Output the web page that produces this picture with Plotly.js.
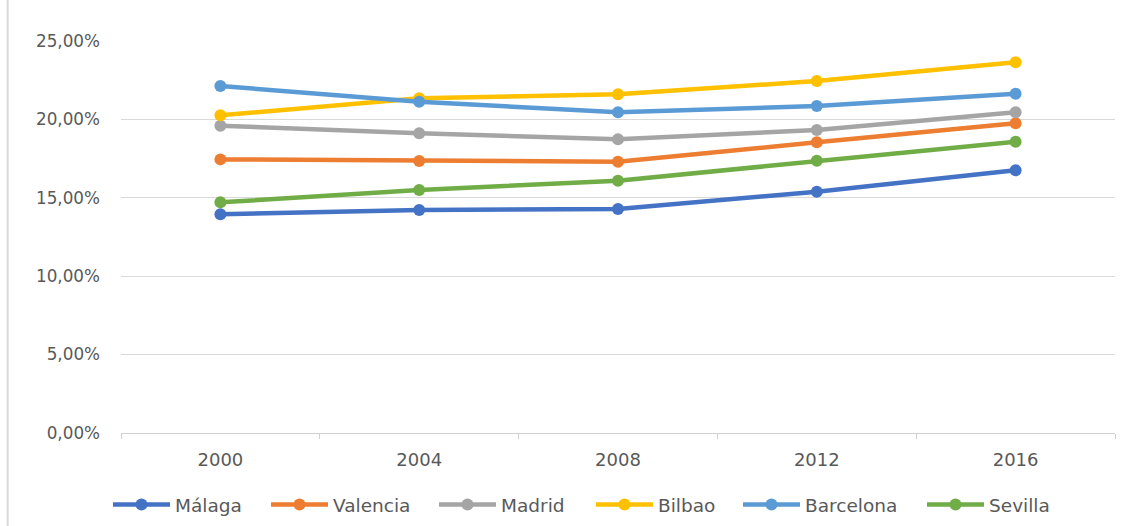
<!DOCTYPE html>
<html>
<head>
<meta charset="utf-8">
<script src="https://cdn.plot.ly/plotly-3.0.1.min.js"></script>
<style>html,body{margin:0;padding:0;background:#fff;}#chart{width:1131px;height:526px;}</style>
</head>
<body>
<div id="chart"></div>
<script>
const years = ['2000', '2004', '2008', '2012', '2016'];
const malaga    = [0.1395, 0.1422, 0.1429, 0.1539, 0.1675];
const valencia  = [0.1745, 0.1735, 0.1730, 0.1854, 0.1975];
const madrid    = [0.1960, 0.1911, 0.1873, 0.1932, 0.2045];
const bilbao    = [0.2026, 0.2135, 0.2160, 0.2245, 0.2364];
const barcelona = [0.2213, 0.2113, 0.2045, 0.2085, 0.2164];
const sevilla   = [0.1471, 0.1550, 0.1609, 0.1737, 0.1858];

const seriesNames = ['Málaga', 'Valencia', 'Madrid', 'Bilbao', 'Barcelona', 'Sevilla'];
const seriesData = [malaga, valencia, madrid, bilbao, barcelona, sevilla];
const colors = ['#4472C4', '#ED7D31', '#A5A5A5', '#FFC000', '#5B9BD5', '#70AD47'];

// legend entry left edges (px) in the picture
const legendStarts = [113, 271, 439, 596, 743, 927];

const PLOT_L = 121, PLOT_W = 994;
const FONT = 'DejaVu Sans, sans-serif';

const legendIds = seriesNames.map((_, i) => i === 0 ? 'legend' : 'legend' + (i + 1));

const traces = seriesNames.map((n, i) => ({
  type: 'scatter',
  mode: 'lines+markers',
  name: n,
  x: years,
  y: seriesData[i],
  legend: legendIds[i],
  line: {color: colors[i], width: 4.5},
  marker: {color: colors[i], size: 12},
  hoverinfo: 'skip'
}));

const layout = {
  width: 1131,
  height: 526,
  margin: {l: 121, r: 16, t: 41, b: 93, autoexpand: false},
  paper_bgcolor: '#ffffff',
  plot_bgcolor: '#ffffff',
  separators: ',.',
  font: {family: FONT, color: '#595959', size: 16},
  showlegend: true,
  xaxis: {
    type: 'category',
    range: [-0.5, 4.5],
    showgrid: false,
    showline: true,
    linecolor: '#d0d0d0',
    linewidth: 1,
    ticks: 'outside',
    tickson: 'boundaries',
    ticklen: 5,
    tickcolor: '#d0d0d0',
    ticklabelstandoff: 10,
    tickfont: {family: FONT, size: 18, color: '#595959'},
    fixedrange: true
  },
  yaxis: {
    range: [0, 0.25],
    tickvals: [0, 0.05, 0.10, 0.15, 0.20, 0.25],
    tickformat: '.2%',
    showgrid: true,
    gridcolor: '#d9d9d9',
    gridwidth: 1,
    zeroline: false,
    showline: false,
    ticks: '',
    ticklabelstandoff: 20,
    tickfont: {family: FONT, size: 16.8, color: '#595959'},
    fixedrange: true
  },
  shapes: [
    {type: 'line', xref: 'paper', yref: 'paper', x0: -0.114, x1: -0.114, y0: -0.237, y1: 1.105,
     line: {color: '#d9d9d9', width: 2}}
  ]
};

legendIds.forEach((id, i) => {
  layout[id] = {
    orientation: 'h',
    x: (legendStarts[i] - 5 - PLOT_L) / PLOT_W, xanchor: 'left',
    y: -0.1837, yanchor: 'middle',
    font: {family: FONT, size: 18.5, color: '#595959'},
    itemwidth: 57,
    bgcolor: 'rgba(0,0,0,0)'
  };
});

Plotly.newPlot('chart', traces, layout, {staticPlot: true, displayModeBar: false});
</script>
</body>
</html>
